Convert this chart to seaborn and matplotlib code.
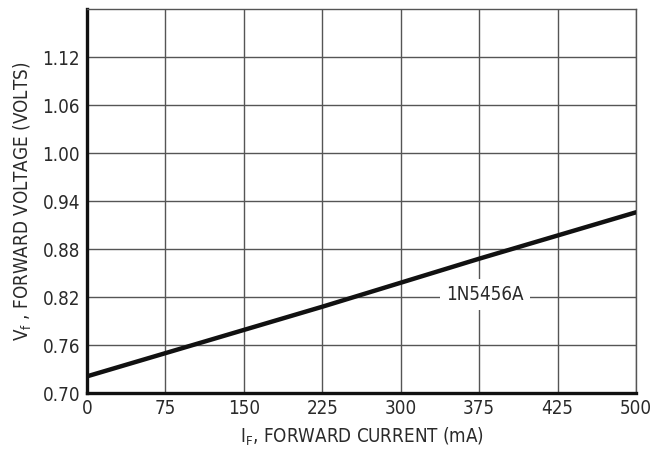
import matplotlib
matplotlib.use("Agg")
import matplotlib.pyplot as plt
import seaborn as sns
import pandas as pd
import numpy as np

# Data
x_tick_labels = ["0", "75", "150", "225", "300", "375", "425", "500"]
grid_pos = [0, 1, 2, 3, 4, 5, 6, 7]
vf_values = [0.721, 0.750, 0.779, 0.808, 0.838, 0.868, 0.897, 0.926]
y_ticks = [0.70, 0.76, 0.82, 0.88, 0.94, 1.00, 1.06, 1.12]
y_top = 1.18
curve_label = "1N5456A"

sns.set_theme(style="white")
plt.rcParams['font.family'] = ['Liberation Sans Narrow', 'DejaVu Sans']
plt.rcParams['font.stretch'] = 'condensed'
plt.rcParams['mathtext.fontset'] = 'custom'
plt.rcParams['mathtext.rm'] = 'DejaVu Sans:stretch=condensed'

fig = plt.figure(figsize=(6.66, 4.62), dpi=100)
ax = fig.add_axes([0.1306, 0.149, 0.955 - 0.1306, 0.9805 - 0.149])

df = pd.DataFrame({"pos": grid_pos, "vf": vf_values})
sns.lineplot(data=df, x="pos", y="vf", ax=ax, color="#111111", linewidth=3.2, zorder=4)

ax.set_xlim(0, 7)
ax.set_ylim(0.70, y_top)
ax.set_xticks(grid_pos)
ax.set_xticklabels(x_tick_labels)
ax.set_yticks(y_ticks)
ax.set_yticklabels([f"{v:.2f}" for v in y_ticks])
ax.tick_params(axis='both', length=0, labelsize=13.5, colors="#2a2a2a")
ax.tick_params(axis='x', pad=4)
ax.tick_params(axis='y', pad=5)

ax.grid(True, color="#555555", linewidth=1.0)
ax.set_axisbelow(True)

for side in ["left", "bottom"]:
    ax.spines[side].set_color("#111111")
    ax.spines[side].set_linewidth(2.4)
for side in ["top", "right"]:
    ax.spines[side].set_color("#555555")
    ax.spines[side].set_linewidth(1.0)

ax.set_xlabel(r"I$_\mathregular{F}$, FORWARD CURRENT (mA)", fontsize=13.5, color="#2a2a2a", labelpad=6)
ax.set_ylabel(r"V$_\mathregular{f}$ , FORWARD VOLTAGE (VOLTS)", fontsize=13.5, color="#2a2a2a", labelpad=6)

ax.text(5.07, 0.8235, curve_label, fontsize=13.5, color="#2a2a2a", ha="center", va="center",
        zorder=5, bbox=dict(facecolor="white", edgecolor="none", pad=4.5))

fig.savefig("out.png", dpi=100)
